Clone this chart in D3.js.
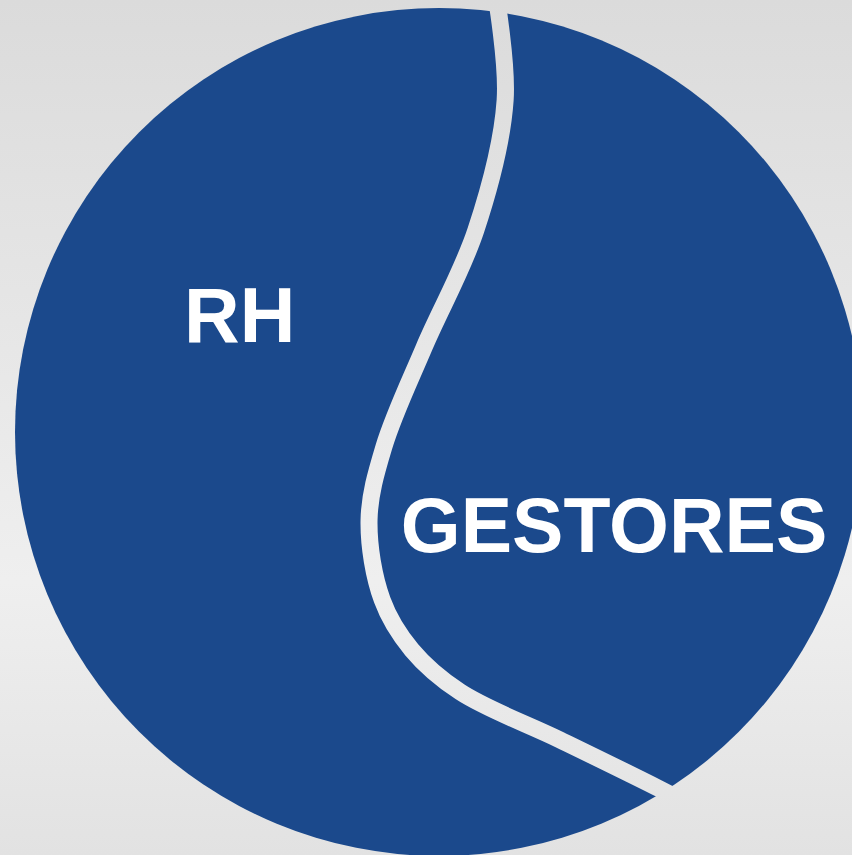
<!DOCTYPE html>
<html>
<head>
<meta charset="utf-8">
<script src="https://cdn.jsdelivr.net/npm/d3@7"></script>
<style>
  html, body { margin: 0; padding: 0; overflow: hidden; }
  svg { display: block; }
</style>
</head>
<body>
<svg class="chart"></svg>
<script>
// two groups sharing one circle, split by a curved divider
const categories = ['RH', 'GESTORES'];

// divider centre line, in circle units (-1..1 across the disc)
const dividerU = [0.134, 0.156, 0.087, -0.035, -0.130, -0.165, -0.134, -0.064, 0.050, 0.285, 0.521, 0.616];
const dividerV = [-1.031, -0.783, -0.476, -0.200, 0.035, 0.208, 0.396, 0.514, 0.613, 0.726, 0.842, 0.892];

const width = 852;
const height = 855;
const cx = 439;
const cy = 432;
const radius = 424;

const chart = d3.select('.chart')
    .attr('width', width)
    .attr('height', height);

const xScale = d3.scaleLinear()
    .domain([-1, 1])
    .range([cx - radius, cx + radius]);

const yScale = d3.scaleLinear()
    .domain([-1, 1])
    .range([cy - radius, cy + radius]);

/*----- BACKGROUND ------*/
const defs = chart.append('defs');
const bg = defs.append('linearGradient')
    .attr('id', 'bg')
    .attr('gradientUnits', 'userSpaceOnUse')
    .attr('x1', 0).attr('y1', 0)
    .attr('x2', 0).attr('y2', height);
bg.append('stop').attr('offset', '0%').attr('stop-color', '#dbdbdb');
bg.append('stop').attr('offset', '68%').attr('stop-color', '#efefef');
bg.append('stop').attr('offset', '100%').attr('stop-color', '#e2e2e2');

chart.append('rect')
    .attr('width', width)
    .attr('height', height)
    .attr('fill', 'url(#bg)');

/*----- DISC ------*/
chart.append('circle')
    .attr('cx', xScale(0))
    .attr('cy', yScale(0))
    .attr('r', xScale(1) - xScale(0))
    .attr('fill', '#1b498c');

/*----- DIVIDER ------*/
const points = dividerU.map((u, i) => [u, dividerV[i]]);
const line = d3.line()
    .x(d => xScale(d[0]))
    .y(d => yScale(d[1]))
    .curve(d3.curveCatmullRom.alpha(0.5));

chart.append('path')
    .datum(points)
    .attr('d', line)
    .attr('fill', 'none')
    .attr('stroke', 'url(#bg)')
    .attr('stroke-width', 17);

/*----- LABELS ------*/
const labelAt = [[-0.470, -0.212], [0.413, 0.282]];

chart.selectAll('text.label')
    .data(categories)
    .enter()
    .append('text')
    .attr('class', 'label')
    .attr('x', (d, i) => xScale(labelAt[i][0]))
    .attr('y', (d, i) => yScale(labelAt[i][1]))
    .attr('text-anchor', 'middle')
    .attr('fill', '#fff')
    .style('font-family', '"Liberation Sans", Arial, sans-serif')
    .style('font-weight', 'bold')
    .style('font-size', '77px')
    .text(d => d);
</script>
</body>
</html>
